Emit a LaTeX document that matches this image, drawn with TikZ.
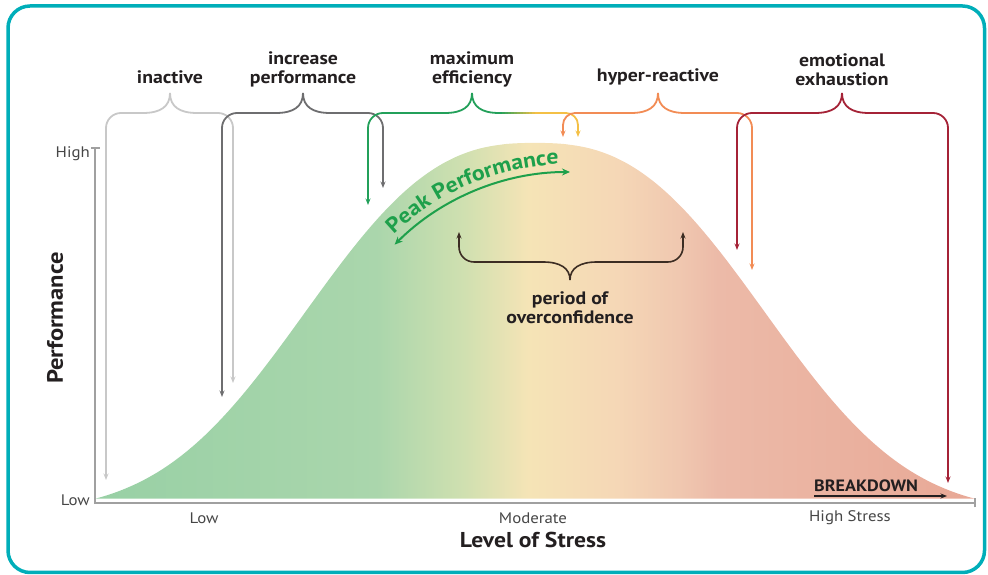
\documentclass[tikz,border=0pt]{standalone}
\usepackage{fontspec}
\setmainfont[FakeStretch=1.1]{PT Sans}
\usetikzlibrary{arrows.meta,decorations.text}
\definecolor{teal1}{RGB}{0,174,185}
\definecolor{axisg}{RGB}{160,160,160}
\definecolor{txt}{RGB}{35,31,32}
\definecolor{txtg}{RGB}{70,70,70}
\definecolor{lgray}{RGB}{200,200,200}
\definecolor{dgray}{RGB}{110,110,112}
\definecolor{effgreen}{RGB}{35,160,90}
\definecolor{effyellow}{RGB}{244,192,70}
\definecolor{hyporange}{RGB}{242,140,85}
\definecolor{exhred}{RGB}{165,35,55}
\definecolor{peakgreen}{RGB}{30,160,75}
\definecolor{brownb}{RGB}{60,45,35}
\definecolor{g1}{RGB}{152,208,165}
\definecolor{g2}{RGB}{170,214,172}
\definecolor{g3}{RGB}{208,224,176}
\definecolor{y1}{RGB}{245,228,182}
\definecolor{p1}{RGB}{245,215,182}
\definecolor{p2}{RGB}{240,200,176}
\definecolor{p3}{RGB}{236,186,168}
\definecolor{r1}{RGB}{232,168,150}
\pgfdeclarehorizontalshading{stressgrad}{100bp}{color(0bp)=(g1); color(25bp)=(g1); color(41bp)=(g2); color(46bp)=(g3); color(49.6bp)=(y1); color(54.7bp)=(p1); color(58.1bp)=(p2); color(60.4bp)=(p3); color(75bp)=(r1); color(100bp)=(r1)}
\tikzset{
  lab/.style={font=\fontsize{18}{19}\selectfont\bfseries, text=txt, align=center, inner sep=0pt},
  small/.style={font=\fontsize{15.3}{17}\selectfont, text=txtg, inner sep=0pt},
  big/.style={font=\fontsize{21.5}{24}\selectfont\bfseries, text=txt, inner sep=0pt},
  conn/.style={line width=1.8pt, -{Stealth[length=6.5pt,width=5pt]}},
  axisline/.style={axisg, line width=1.6pt},
}
% half of a top brace: #1 = x of end, #2 = x of cusp, #3 = tip coordinate, #4 = corner radius
\newcommand{\bracel}[4]{(#2,482) .. controls (#2,468) and (#2-10,462) .. (#2-27,462) -- (#1+#4,462) arc[start angle=90,end angle=180,radius=#4] -- (#3)}
\newcommand{\bracer}[4]{(#2,482) .. controls (#2,468) and (#2+10,462) .. (#2+27,462) -- (#1-#4,462) arc[start angle=90,end angle=0,radius=#4] -- (#3)}
\begin{document}
\begin{tikzpicture}[x=1pt,y=1pt]
\useasboundingbox (0,0) rectangle (988,575);
% frame
\draw[teal1, line width=3.5pt, rounded corners=22pt] (8,2.5) rectangle (984.5,569);
% curve
\shade[shading=stressgrad] plot[domain=-440:440, samples=177, smooth] ({535+\x},{72+360*(exp(-((abs(\x)+0.5)/278)^2.6)-0.025)/0.975}) -- cycle;
% axes
\coordinate (ytop) at (95,427);
\coordinate (orig) at (95,72);
\coordinate (xend) at (975,72);
\draw[axisline] (91,427) -- (99.5,427);
\draw[axisline] (ytop) -- (orig) -- (xend);
\draw[axisline] (975,67.5) -- (975,76.5);
\node[small, anchor=east] (hi) at (90,421) {High};
\node[small, anchor=east] (lo) at (90,75) {Low};
\node[big, rotate=90, font=\fontsize{22.3}{24}\selectfont\bfseries] (perf) at (55,257) {Performance};
\node[small] (xlow) at (204,57) {Low};
\node[small] (xmod) at (533,57) {Moderate};
\node[small] (xhigh) at (850,57) {High Stress};
\node[big] (lvl) at (533,35) {Level of Stress};
% labels
\node[lab] (inact) at (170,498) {inactive};
\node[lab] (incr) at (303,505.5) {increase\\performance};
\node[lab] (maxe) at (472,505.5) {maximum\\efficiency};
\node[lab] (hyper) at (658,498) {hyper-reactive};
\node[lab] (emo) at (842,505.5) {emotional\\exhaustion};
\node[lab] (over) at (570,267.5) {period of\\overconfidence};
% tips
\coordinate (inactL) at (106,95);
\coordinate (inactR) at (233,192);
\coordinate (incrL) at (222,178);
\coordinate (incrR) at (383,387);
\coordinate (maxeL) at (368,370);
\coordinate (maxeR) at (578,438);
\coordinate (hyperL) at (563,438);
\coordinate (hyperR) at (752,305);
\coordinate (emoL) at (737,325);
\coordinate (emoR) at (948,92);
% braces
\draw[conn, lgray] \bracel{106}{170}{inactL}{15};
\draw[conn, lgray] \bracer{233}{170}{inactR}{15};
\draw[conn, dgray] \bracel{222}{303}{incrL}{15};
\draw[conn, dgray] \bracer{383}{303}{incrR}{15};
\draw[conn, effgreen] \bracel{368}{472}{maxeL}{15};
\draw[line width=1.8pt, effgreen] (472,482) .. controls (472,468) and (482,462) .. (499,462);
\foreach \i in {0,...,11}{
  \pgfmathsetmacro{\pc}{100-\i*8.5}
  \draw[line width=1.8pt, effgreen!\pc!effyellow] (499+3*\i,462) -- (502.2+3*\i,462);
}
\draw[conn, effyellow] (535,462) -- (566,462) arc[start angle=90,end angle=0,radius=12] -- (maxeR);
\draw[conn, hyporange] \bracel{563}{658}{hyperL}{12};
\draw[conn, hyporange] \bracer{752}{658}{hyperR}{15};
\draw[conn, exhred] \bracel{737}{842}{emoL}{15};
\draw[conn, exhred] \bracer{948}{842}{emoR}{15};
% overconfidence brace
\coordinate (overL) at (459,343);
\coordinate (overR) at (683,343);
\draw[conn, brownb, line width=1.6pt] (570,295) .. controls (570,307) and (560,313) .. (543,313) -- (474,313) arc[start angle=270,end angle=180,radius=15] -- (overL);
\draw[conn, brownb, line width=1.6pt] (570,295) .. controls (570,307) and (580,313) .. (597,313) -- (668,313) arc[start angle=270,end angle=360,radius=15] -- (overR);
% peak performance
\coordinate (pkc) at (570,155);
\draw[peakgreen, line width=2pt, {Stealth[length=8pt,width=7pt]}-{Stealth[length=8pt,width=7pt]}] (pkc) ++(135:248) arc[start angle=135,end angle=90,radius=248];
\path[decorate, decoration={text along path, text align=center, text={|\fontsize{21.5}{22}\selectfont\bfseries\color{peakgreen}|Peak Performance}}] (pkc) ++(140:256) arc[start angle=140,end angle=86,radius=256];
% breakdown
\node[font=\fontsize{16.4}{17}\selectfont\bfseries, text=txt, anchor=base west, inner sep=0pt] (brk) at (814,83) {BREAKDOWN};
\coordinate (brkE) at (947,79);
\draw[txt, line width=1.6pt, -{Stealth[length=6.5pt,width=5pt]}] (brk.south west |- 0,79) -- (brkE);
\end{tikzpicture}
\end{document}
